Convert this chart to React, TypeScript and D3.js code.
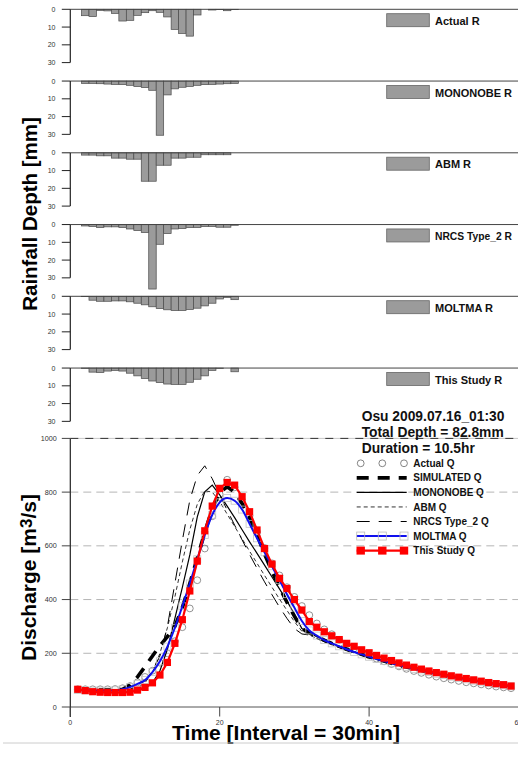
import * as d3 from 'd3';

const W = 518;
const H = 757;
const FONT = '"Liberation Sans", Arial, sans-serif';

// rainfall hyetographs, one bar per 30 min interval (t = 2..22)
const rainLabels = ['Actual R', 'MONONOBE R', 'ABM R', 'NRCS Type_2 R', 'MOLTMA R', 'This Study R'];
const actualR = [3.6, 4.1, 0.6, 0.9, 2.3, 6.6, 6.2, 3.4, 1.9, 0.8, 1.7, 4.3, 11.3, 13.6, 15.1, 3.2, 0, 0.4, 0.2, 0.8, 0.2];
const mononobeR = [1.3, 1.3, 1.5, 1.7, 1.9, 2.0, 2.4, 3.1, 3.7, 5.2, 30.5, 7.8, 4.4, 3.5, 3.0, 2.4, 2.0, 1.9, 1.7, 1.5, 1.3];
const abmR = [1.3, 1.3, 1.7, 1.7, 3.0, 3.0, 3.6, 3.6, 16, 16, 7.0, 7.0, 3.0, 3.0, 2.5, 2.5, 1.1, 1.1, 1.1, 1.1, 0];
const nrcsR = [0.8, 1.1, 1.7, 1.3, 1.3, 1.7, 2.5, 3.4, 4.5, 36.3, 11.1, 5.1, 2.5, 2.3, 1.7, 1.7, 1.1, 1.1, 1.5, 1.5, 0.4];
const moltmaR = [0.2, 2.2, 2.8, 2.8, 2.6, 2.6, 3.1, 3.9, 4.8, 5.9, 6.9, 7.6, 8.0, 8.0, 7.4, 6.7, 5.4, 3.9, 1.5, 0.6, 1.9];
const thisStudyR = [0.2, 2.3, 2.5, 1.7, 1.3, 1.7, 2.9, 4.4, 5.9, 7.3, 8.2, 9.0, 9.2, 9.2, 8.0, 6.3, 4.4, 1.3, 0.2, 0, 2.1];
const rainSeries = [actualR, mononobeR, abmR, nrcsR, moltmaR, thisStudyR];
const rainTicks = [0, 10, 20, 30];

// discharge hydrographs, t = 1..59
const simTail = [276, 262, 249, 237, 226, 215, 205, 196, 187, 179, 171, 163, 156, 149, 142, 136, 130, 124, 119, 113, 108, 103, 98, 94, 89, 85, 81, 77];
const dashTail = [268, 255, 243, 232, 221, 211, 201, 192, 184, 176, 168, 161, 154, 147, 141, 135, 129, 123, 118, 112, 107, 102, 97, 93, 88, 84, 80, 76];
const actualQ = [66, 66, 66, 66, 66, 67, 70, 78, 92, 112, 135, 165, 200, 245, 297, 367, 472, 590, 710, 792, 846, 818, 768, 712, 652, 592, 535, 490, 446, 410, 376, 342, 311, 289, 271, 250, 233, 218, 204, 192, 180, 170, 160, 151, 142, 134, 127, 120, 113, 107, 102, 97, 92, 88, 84, 80, 76, 73, 70];
const simulatedQ = [66, 65, 64, 63, 63, 63, 66, 82, 112, 150, 190, 228, 262, 300, 370, 460, 555, 650, 738, 798, 820, 800, 758, 705, 640, 570, 505, 445, 390, 338, 292, ...simTail];
const mononobeQ = [66, 62, 60, 58, 57, 57, 57, 57, 60, 70, 90, 135, 215, 330, 445, 566, 708, 801, 826, 790, 748, 705, 660, 615, 572, 528, 484, 440, 395, 345, 292, ...simTail];
const abmQ = [66, 63, 61, 60, 60, 60, 61, 64, 72, 90, 130, 200, 295, 410, 540, 660, 755, 805, 800, 765, 718, 672, 626, 580, 535, 490, 446, 402, 360, 318, 282, ...dashTail];
const nrcsQ = [66, 63, 61, 60, 60, 60, 61, 66, 78, 98, 135, 190, 300, 460, 620, 770, 862, 898, 850, 790, 733, 677, 622, 568, 516, 466, 418, 372, 330, 292, 272, ...dashTail];
const moltmaQ = [63, 62, 61, 61, 61, 62, 66, 74, 86, 100, 130, 170, 225, 295, 375, 460, 550, 640, 715, 762, 778, 768, 735, 682, 628, 576, 524, 472, 420, 370, 320, 285, 266, ...simTail.slice(2)];
const thisStudyQ = [66, 61, 57, 55, 54, 54, 54, 55, 63, 73, 90, 119, 166, 237, 325, 432, 543, 656, 748, 814, 836, 826, 783, 727, 659, 590, 532, 479, 441, 400, 361, 318, 297, 280, 265, 251, 237, 226, 213, 202, 192, 182, 173, 164, 156, 148, 141, 134, 128, 122, 116, 111, 106, 101, 96, 91, 87, 83, 78];
const qTicks = [0, 200, 400, 600, 800, 1000];
const timeTicks = [0, 20, 40, 60];

const legendLabels = ['Actual Q', 'SIMULATED Q', 'MONONOBE Q', 'ABM Q', 'NRCS Type_2 Q', 'MOLTMA Q', 'This Study Q'];
const infoLines = ['Osu 2009.07.16_01:30', 'Total Depth = 82.8mm', 'Duration = 10.5hr'];

const x = d3.scaleLinear().domain([0, 60]).range([70.3, 518.5]);
const y = d3.scaleLinear().domain([0, 1000]).range([707, 438.4]);
const line = d3.line<number>().x((_, i) => x(i + 1)).y(d => y(d));
const smooth = d3.line<number>().x((_, i) => x(i + 1)).y(d => y(d)).curve(d3.curveMonotoneX);

const lineStyles = [
  { data: simulatedQ, stroke: '#000', width: 3.6, dash: '12,9' },
  { data: mononobeQ, stroke: '#000', width: 1.2, dash: null },
  { data: abmQ, stroke: '#333', width: 1, dash: '4,3' },
  { data: nrcsQ, stroke: '#000', width: 1, dash: '13,9' },
];

function RainPanel({ idx }: { idx: number }) {
  const z = 9.3 + idx * 71.75;
  const ry = d3.scaleLinear().domain([0, 30]).range([z, z + 53.3]);
  const bw = x(1) - x(0);
  const vals = rainSeries[idx];
  const label = rainLabels[idx];
  return (
    <g>
      {vals.map((v, i) => v > 0 ? (
        <rect key={i} x={x(i + 2 - 0.5)} y={ry(0)} width={bw} height={ry(v) - ry(0)}
          fill="#9b9b9b" stroke="#4a4a4a" strokeWidth={0.7} />
      ) : null)}
      <line x1={x(0)} x2={W} y1={ry(0)} y2={ry(0)} stroke="#444" strokeWidth={1} />
      <line x1={x(0)} x2={x(0)} y1={ry(0)} y2={ry(30)} stroke="#222" strokeWidth={1.2} />
      {rainTicks.map(t => (
        <g key={t}>
          <line x1={x(0) - 8.5} x2={x(0)} y1={ry(t)} y2={ry(t)} stroke="#222" strokeWidth={1} />
          <text x={55.5} y={ry(t) + 2.5} fontSize={7} textAnchor="end" fill="#333" fontFamily={FONT}>{t}</text>
        </g>
      ))}
      <rect x={386.7} y={z + 4.4} width={42.6} height={13} fill="#9b9b9b" stroke="#666" strokeWidth={0.8} />
      <text x={435} y={z + 15.6} fontSize={11} fontWeight="bold" fill="#111" fontFamily={FONT}
        textLength={label.length > 12 ? 77 : undefined} lengthAdjust="spacingAndGlyphs">{label}</text>
    </g>
  );
}

function LegendSymbol({ i, cy }: { i: number; cy: number }) {
  const x0 = 356.7, x1 = 406.7;
  const pts = [360.7, 382.3, 404];
  if (i === 0) return <g>{pts.map(p => <circle key={p} cx={p} cy={cy} r={3.4} fill="none" stroke="#666" strokeWidth={0.8} />)}</g>;
  if (i <= 4) {
    const s = lineStyles[i - 1];
    return <line x1={x0} x2={x1} y1={cy} y2={cy} stroke={s.stroke} strokeWidth={s.width} strokeDasharray={s.dash ?? undefined} />;
  }
  if (i === 5) return (
    <g>
      <line x1={x0} x2={x1} y1={cy} y2={cy} stroke="#1010ee" strokeWidth={2} />
      {pts.map(p => <rect key={p} x={p - 4} y={cy - 4} width={8} height={8} fill="none" stroke="#bbb" strokeWidth={0.8} />)}
    </g>
  );
  return (
    <g>
      <line x1={x0} x2={x1} y1={cy} y2={cy} stroke="#ff0000" strokeWidth={2.2} />
      {pts.map(p => <rect key={p} x={p - 4.2} y={cy - 4} width={8.4} height={8} fill="#ff0000" />)}
    </g>
  );
}

export default function App() {
  return (
    <svg width={W} height={H} style={{ position: 'absolute', left: 0, top: 0, background: '#fff' }} fontFamily={FONT}>
      {rainLabels.map((_, i) => <RainPanel key={i} idx={i} />)}

      {/* discharge grid */}
      {qTicks.slice(1, 5).map(t => (
        <line key={t} x1={x(0)} x2={W} y1={y(t)} y2={y(t)} stroke="#b5b5b5" strokeWidth={1} strokeDasharray="8,5" />
      ))}
      <line x1={x(0)} x2={W} y1={y(1000)} y2={y(1000)} stroke="#c8c8c8" strokeWidth={1} />
      <line x1={x(0)} x2={W} y1={y(1000)} y2={y(1000)} stroke="#333" strokeWidth={1} strokeDasharray="8,7" />

      {/* axes */}
      <line x1={x(0)} x2={W} y1={y(0)} y2={y(0)} stroke="#555" strokeWidth={1} />
      <line x1={x(0)} x2={x(0)} y1={y(1000)} y2={y(0) + 10} stroke="#222" strokeWidth={1.2} />
      {qTicks.map(t => (
        <g key={t}>
          <line x1={x(0) - 8.5} x2={x(0)} y1={y(t)} y2={y(t)} stroke="#444" strokeWidth={1} />
          <text x={56.7} y={y(t) + 2.5} fontSize={7.2} textAnchor="end" fill="#333">{t}</text>
        </g>
      ))}
      {timeTicks.map(t => (
        <g key={t}>
          <line x1={x(t)} x2={x(t)} y1={y(0)} y2={y(0) + 9.5} stroke="#444" strokeWidth={1} />
          <text x={x(t)} y={724.5} fontSize={7} textAnchor="middle" fill="#333">{t}</text>
        </g>
      ))}

      {/* series */}
      {actualQ.map((d, i) => (
        <circle key={i} cx={x(i + 1)} cy={y(d)} r={3.4} fill="none" stroke="#777" strokeWidth={0.8} />
      ))}
      {lineStyles.map((s, i) => (
        <path key={i} d={line(s.data) ?? ''} fill="none" stroke={s.stroke} strokeWidth={s.width}
          strokeDasharray={s.dash ?? undefined} />
      ))}
      {moltmaQ.map((d, i) => (
        <rect key={i} x={x(i + 1) - 3.5} y={y(d) - 3.5} width={7} height={7} fill="none" stroke="#c4c4c4" strokeWidth={0.8} />
      ))}
      <path d={smooth(moltmaQ) ?? ''} fill="none" stroke="#1010ee" strokeWidth={2} />
      <path d={line(thisStudyQ) ?? ''} fill="none" stroke="#ff0000" strokeWidth={2.2} />
      {thisStudyQ.map((d, i) => (
        <rect key={i} x={x(i + 1) - 3.6} y={y(d) - 3.6} width={7.2} height={7.2} fill="#ff0000" />
      ))}

      {/* legend */}
      {infoLines.map((s, i) => (
        <text key={s} x={361.7} y={420.7 + i * 16.3} fontSize={13.8} fontWeight="bold" fill="#111">{s}</text>
      ))}
      {legendLabels.map((s, i) => {
        const cy = 463.3 + i * 14.55;
        return (
          <g key={s}>
            <LegendSymbol i={i} cy={cy} />
            <text x={413.3} y={cy + 3.6} fontSize={10} fontWeight="bold" fill="#111">{s}</text>
          </g>
        );
      })}

      {/* axis titles */}
      <text transform="translate(37,214) rotate(-90)" textAnchor="middle" fontSize={20.5} fontWeight="bold" fill="#000">Rainfall Depth [mm]</text>
      <text transform="translate(36,577.5) rotate(-90)" textAnchor="middle" fontSize={21} fontWeight="bold" fill="#000">
        Discharge [m<tspan fontSize={17} dy={-4}>3</tspan><tspan dy={4}>/s]</tspan>
      </text>
      <text x={286} y={739.5} textAnchor="middle" fontSize={21} fontWeight="bold" fill="#000">Time [Interval = 30min]</text>
      <line x1={3} x2={W} y1={743} y2={743} stroke="#ccc" strokeWidth={1} />
    </svg>
  );
}
